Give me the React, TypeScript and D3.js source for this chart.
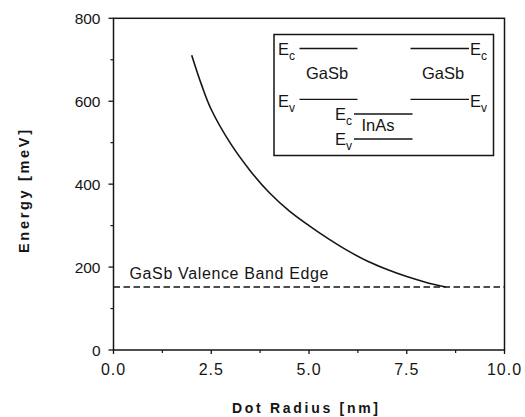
import React from 'react';
import * as d3 from 'd3';

// dot radius (nm) vs. confined level energy (meV)
const radius = [2.0, 2.25, 2.5, 3.0, 3.5, 4.0, 4.5, 5.0, 5.5, 6.0, 6.5, 7.0, 7.5, 8.0, 8.5];
const energy = [711, 640, 580, 497, 432, 378, 335, 300, 268, 239, 214, 194, 177, 163, 152];
const valenceEdge = 152;
const xTicks = [0, 2.5, 5, 7.5, 10];
const xMinor = [1.25, 3.75, 6.25, 8.75];
const yTicks = [0, 200, 400, 600, 800];
const yMinor = [100, 300, 500, 700];

const W = 525;
const H = 417;
const margin = { top: 18.3, right: 20.5, bottom: 67, left: 113.5 };
const ink = '#151515';
const font = '"Liberation Sans", Arial, Helvetica, sans-serif';

const x = d3.scaleLinear().domain([0, 10]).range([margin.left, W - margin.right]);
const y = d3.scaleLinear().domain([0, 800]).range([H - margin.bottom, margin.top]);

const line = d3
  .line<number>()
  .x((_, i) => x(radius[i]))
  .y(d => y(d))
  .curve(d3.curveCatmullRom.alpha(0.5));

// band-edge label "E" with subscript
const Level = ({ px, py, sub }: { px: number; py: number; sub: string }) => (
  <text x={px} y={py} fontSize={16.5} fill={ink}>
    E
    <tspan fontSize={12} dy={5}>
      {sub}
    </tspan>
  </text>
);

const Inset = () => (
  <g fontFamily={font}>
    <rect x={274} y={34.5} width={219.5} height={121} fill="white" stroke={ink} strokeWidth={1.5} />
    <Level px={278} py={54.5} sub="c" />
    <line x1={299.5} x2={357.5} y1={48.5} y2={48.5} stroke={ink} strokeWidth={1.3} />
    <line x1={410.5} x2={469} y1={48.5} y2={48.5} stroke={ink} strokeWidth={1.3} />
    <Level px={470} py={54.5} sub="c" />
    <text x={327} y={79} fontSize={16.5} textAnchor="middle" fill={ink}>GaSb</text>
    <text x={443} y={79} fontSize={16.5} textAnchor="middle" fill={ink}>GaSb</text>
    <Level px={278} py={107} sub="v" />
    <line x1={299.5} x2={357.5} y1={99.3} y2={99.3} stroke={ink} strokeWidth={1.3} />
    <line x1={410.5} x2={469} y1={99.3} y2={99.3} stroke={ink} strokeWidth={1.3} />
    <Level px={470} py={107} sub="v" />
    <Level px={335} py={119.5} sub="c" />
    <line x1={354} x2={412.5} y1={114} y2={114} stroke={ink} strokeWidth={1.3} />
    <text x={378} y={131} fontSize={16.5} textAnchor="middle" fill={ink}>InAs</text>
    <Level px={335} py={145} sub="v" />
    <line x1={354} x2={412.5} y1={139} y2={139} stroke={ink} strokeWidth={1.3} />
  </g>
);

export default function App() {
  const [x0, x1] = x.range();
  const [y0, y1] = y.range();
  return (
    <svg
      width={W}
      height={H}
      style={{ position: 'absolute', left: 0, top: 0, background: 'white' }}
      fontFamily={font}
    >
      {/* frame */}
      <rect x={x0} y={y1} width={x1 - x0} height={y0 - y1} fill="none" stroke={ink} strokeWidth={1.5} />

      {/* y axis ticks */}
      {yTicks.map(t => (
        <g key={'y' + t}>
          <line x1={x0 - 5} x2={x0} y1={y(t)} y2={y(t)} stroke={ink} strokeWidth={1.3} />
          <text x={100.5} y={y(t) + 5.8} fontSize={15.5} textAnchor="end" fill={ink}>
            {t}
          </text>
        </g>
      ))}
      {yMinor.map(t => (
        <line key={'ym' + t} x1={x0 - 3} x2={x0} y1={y(t)} y2={y(t)} stroke={ink} strokeWidth={1.2} />
      ))}

      {/* x axis ticks */}
      {xTicks.map(t => (
        <g key={'x' + t}>
          <line x1={x(t)} x2={x(t)} y1={y0} y2={y0 + 4} stroke={ink} strokeWidth={1.3} />
          <text x={x(t)} y={375} fontSize={16} textAnchor="middle" fill={ink} letterSpacing={1}>
            {t.toFixed(1)}
          </text>
        </g>
      ))}
      {xMinor.map(t => (
        <line key={'xm' + t} x1={x(t)} x2={x(t)} y1={y0} y2={y0 + 3} stroke={ink} strokeWidth={1.2} />
      ))}

      {/* axis titles */}
      <text
        x={305}
        y={413}
        fontSize={14}
        fontWeight="bold"
        textAnchor="middle"
        fill={ink}
        textLength={146}
        lengthAdjust="spacing"
      >
        Dot Radius [nm]
      </text>
      <text
        transform="translate(28.5,191.5) rotate(-90)"
        fontSize={14.5}
        fontWeight="bold"
        textAnchor="middle"
        fill={ink}
        textLength={123}
        lengthAdjust="spacing"
      >
        Energy [meV]
      </text>

      {/* valence band edge */}
      <line
        x1={x(0)}
        x2={x(10)}
        y1={y(valenceEdge)}
        y2={y(valenceEdge)}
        stroke={ink}
        strokeWidth={1.6}
        strokeDasharray="6.5,3.5"
      />
      <text x={129.5} y={278.5} fontSize={16} fill={ink} textLength={199} lengthAdjust="spacing">
        GaSb Valence Band Edge
      </text>

      {/* confined level */}
      <path d={line(energy) ?? ''} fill="none" stroke={ink} strokeWidth={1.6} />

      <Inset />
    </svg>
  );
}
